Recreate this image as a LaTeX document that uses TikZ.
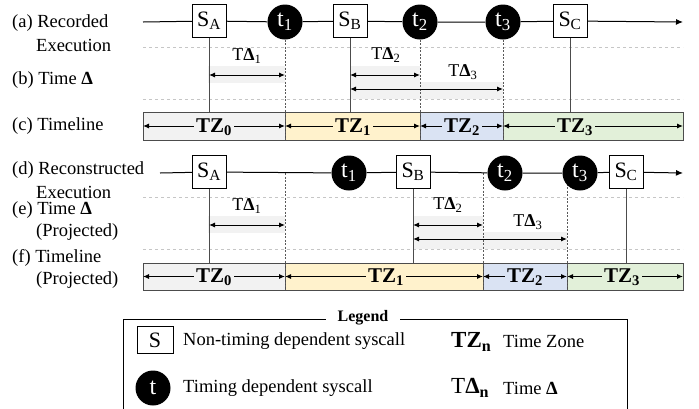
\documentclass[tikz,border=0pt]{standalone}
\usepackage{fontspec}
\setmainfont{Liberation Serif}
\usetikzlibrary{arrows.meta,positioning}
\definecolor{tzgray}{HTML}{F2F2F2}
\definecolor{tzyellow}{HTML}{FFF2CC}
\definecolor{tzblue}{HTML}{DAE3F3}
\definecolor{tzgreen}{HTML}{E2F0D9}
\tikzset{
  sys/.style={draw,fill=white,minimum width=34pt,minimum height=33pt,inner sep=0pt,font=\fontsize{22}{22}\selectfont},
  tsys/.style={circle,fill=black,text=white,minimum size=35pt,inner sep=0pt,font=\fontsize{24}{24}\selectfont},
  rowlbl/.style={anchor=west,inner sep=0pt,font=\fontsize{18.5}{18.5}\selectfont},
  exec/.style={line width=1pt},
  guide/.style={gray!45,dashed,line width=0.5pt},
  sline/.style={gray!60!black,line width=0.8pt},
  tline/.style={gray!70!black,dash pattern=on 2pt off 1.5pt,line width=0.6pt},
  span/.style={{Latex[length=6pt,width=5pt]}-{Latex[length=6pt,width=5pt]},line width=1pt},
  zone/.style={draw=black!70,line width=0.8pt},
  zlbl/.style={font=\fontsize{21}{21}\selectfont\bfseries,inner xsep=2pt,inner ysep=0pt},
  dlbl/.style={font=\fontsize{18}{18}\selectfont,inner sep=0pt}
}
\begin{document}
\begin{tikzpicture}[x=1pt,y=-1pt]
\useasboundingbox (0,0) rectangle (699,408);

% row labels
\node[rowlbl] (la) at (12,23) {(a) Recorded};
\node[rowlbl] (la2) at (36,45) {Execution};
\node[rowlbl] (lb) at (12,80) {(b) Time \textbf{Δ}};
\node[rowlbl] (lc) at (12,126) {(c) Timeline};
\node[rowlbl] (ld) at (12,170) {(d) Reconstructed};
\node[rowlbl] (ld2) at (36,192) {Execution};
\node[rowlbl] (le) at (12,210) {(e) Time \textbf{Δ}};
\node[rowlbl] (le2) at (36,232) {(Projected)};
\node[rowlbl] (lf) at (12,258) {(f) Timeline};
\node[rowlbl] (lf2) at (36,280) {(Projected)};

% guides
\foreach \y in {47,99,197,249}
  \draw[guide] (143,\y) -- (683,\y);

% shaded time deltas
\fill[tzgray] (208,66) rectangle (285,83);
\fill[tzgray] (350,66) rectangle (420,99);
\fill[tzgray] (420,82) rectangle (503,99);
\fill[tzgray] (208,216) rectangle (285,233);
\fill[tzgray] (413,216) rectangle (483,249);
\fill[tzgray] (483,232) rectangle (567,249);

% timelines
\foreach \xa/\xb/\xl/\c/\n in {143/285/214/tzgray/0,285/420/353/tzyellow/1,420/503/462/tzblue/2,503/683/575/tzgreen/3}{
  \filldraw[zone,fill=\c] (\xa,112) rectangle (\xb,140);
  \coordinate (cl\n) at (\xa,126);
  \coordinate (cr\n) at (\xb,126);
  \draw[span] (cl\n) -- (cr\n);
  \node[zlbl,fill=\c] (cz\n) at (\xl,127) {TZ\textsubscript{\n}};
}
\foreach \xa/\xb/\xl/\c/\n in {143/285/214/tzgray/0,285/483/386/tzyellow/1,483/567/525/tzblue/2,567/683/622/tzgreen/3}{
  \filldraw[zone,fill=\c] (\xa,263) rectangle (\xb,290);
  \coordinate (fl\n) at (\xa,276.5);
  \coordinate (fr\n) at (\xb,276.5);
  \draw[span] (fl\n) -- (fr\n);
  \node[zlbl,fill=\c] (fz\n) at (\xl,277.5) {TZ\textsubscript{\n}};
}

% (a) recorded execution
\coordinate (ea) at (143,22);
\coordinate (eb) at (683,22);
\node[sys] (sa) at (209,21) {S\textsubscript{A}};
\node[tsys] (ta) at (285,22) {t\textsubscript{1}};
\node[sys] (sb) at (350,21) {S\textsubscript{B}};
\node[tsys] (tb) at (420,22) {t\textsubscript{2}};
\node[tsys] (tc) at (503,22) {t\textsubscript{3}};
\node[sys] (sc) at (570,21) {S\textsubscript{C}};
\draw[exec] (ea) -- (sa) -- (ta) -- (sb) -- (tb) -- (tc) -- (sc);
\draw[exec,-{Latex[length=7pt,width=6pt]}] (sc) -- (eb);
\coordinate (ctop) at (0,112);
\coordinate (cbot) at (0,140);
\foreach \s in {sa,sb,sc}
  \draw[sline] (\s.south) -- (\s.south |- ctop);
\foreach \t in {ta,tb,tc}
  \draw[tline] (\t.south) -- (\t.south |- cbot);

% (b) time deltas
\draw[span] (sa.south |- 0,75) -- (ta.south |- 0,75);
\draw[span] (sb.south |- 0,75) -- (tb.south |- 0,75);
\draw[span] (sb.south |- 0,89) -- (tc.south |- 0,89);
\node[dlbl] (da) at (247,56) {T\textbf{Δ}\textsubscript{1}};
\node[dlbl] (db) at (386,55) {T\textbf{Δ}\textsubscript{2}};
\node[dlbl] (dc) at (463,72) {T\textbf{Δ}\textsubscript{3}};

% (d) reconstructed execution
\coordinate (ra) at (160,173);
\coordinate (rb) at (683,173);
\coordinate (pa) at (285,173);
\coordinate (pb) at (483,173);
\coordinate (pc) at (567,173);
\coordinate (fbot) at (0,290);
\coordinate (ftop) at (0,263);
\foreach \p in {pa,pb,pc}
  \draw[tline] (\p) -- (\p |- fbot);
\node[sys] (rsa) at (209,172) {S\textsubscript{A}};
\node[tsys] (rta) at (349,173) {t\textsubscript{1}};
\node[sys] (rsb) at (413,172) {S\textsubscript{B}};
\node[tsys] (rtb) at (505,173) {t\textsubscript{2}};
\node[tsys] (rtc) at (580,173) {t\textsubscript{3}};
\node[sys] (rsc) at (626,172) {S\textsubscript{C}};
\draw[exec] (ra) -- (rsa) -- (rta) -- (rsb) -- (rtb) -- (rtc) -- (rsc);
\draw[exec,-{Latex[length=7pt,width=6pt]}] (rsc) -- (rb);
\foreach \s in {rsa,rsb,rsc}
  \draw[sline] (\s.south) -- (\s.south |- ftop);

% (e) projected time deltas
\draw[span] (rsa.south |- 0,225) -- (pa |- 0,225);
\draw[span] (rsb.south |- 0,225) -- (pb |- 0,225);
\draw[span] (rsb.south |- 0,239) -- (pc |- 0,239);
\node[dlbl] (rda) at (247,206) {T\textbf{Δ}\textsubscript{1}};
\node[dlbl] (rdb) at (448,205) {T\textbf{Δ}\textsubscript{2}};
\node[dlbl] (rdc) at (528,222) {T\textbf{Δ}\textsubscript{3}};

% legend
\draw[line width=0.8pt] (123,319) rectangle (627,412);
\node[fill=white,inner xsep=12pt,font=\fontsize{16}{16}\selectfont\bfseries] (leg) at (363,318) {Legend};
\node[sys,minimum width=36pt,minimum height=27pt] (ls) at (155,340) {S};
\node[rowlbl] (lsx) at (183,341) {Non-timing dependent syscall};
\node[tsys] (lt) at (153,388) {t};
\node[rowlbl] (ltx) at (183,388) {Timing dependent syscall};
\node[rowlbl,font=\fontsize{23}{23}\selectfont\bfseries] (lz) at (451,342) {TZ\textsubscript{n}};
\node[rowlbl] (lzx) at (503,341) {Time Zone};
\node[rowlbl,font=\fontsize{23}{23}\selectfont] (ld) at (451,388) {T\textbf{Δ}\textsubscript{\textbf{n}}};
\node[rowlbl] (ldx) at (503,388) {Time \textbf{Δ}};
\end{tikzpicture}
\end{document}
